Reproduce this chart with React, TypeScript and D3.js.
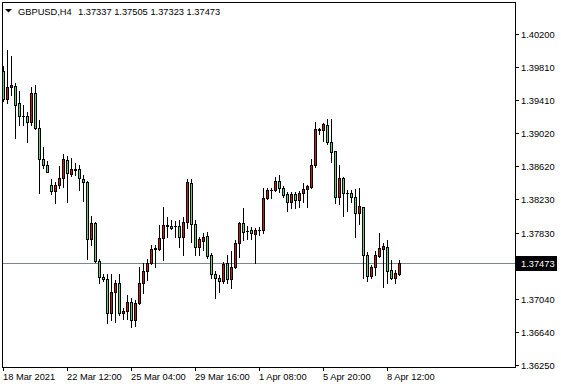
import React from 'react';
import * as d3 from 'd3';

const symbolLabel = 'GBPUSD,H4';
const ohlcLabel = '1.37337 1.37505 1.37323 1.37473';
const lastPrice = 1.37473;

const opens = [
  1.39758, 1.39421, 1.39562, 1.39580, 1.39371, 1.39227, 1.39225, 1.39146, 1.39492, 1.39075,
  1.38705, 1.38633, 1.38395, 1.38327, 1.38395, 1.38478, 1.38693, 1.38529, 1.38585, 1.38585,
  1.38466, 1.38434, 1.37750, 1.37941, 1.37495, 1.37306, 1.37273, 1.36874, 1.37118, 1.37225,
  1.36867, 1.36895, 1.37006, 1.36787, 1.36994, 1.37225, 1.37372, 1.37464, 1.37631, 1.37634,
  1.37762, 1.37909, 1.37909, 1.37909, 1.37909, 1.37781, 1.37960, 1.38418, 1.37933, 1.37655,
  1.37734, 1.37790, 1.37563, 1.37332, 1.37285, 1.37256, 1.37464, 1.37276, 1.37416, 1.37702,
  1.37941, 1.37855, 1.37861, 1.37810, 1.37861, 1.37861, 1.38239, 1.38338, 1.38338, 1.38446,
  1.38366, 1.38287, 1.38199, 1.38287, 1.38225, 1.38297, 1.38356, 1.38378, 1.38637, 1.39063,
  1.39051, 1.39114, 1.38915, 1.38798, 1.38249, 1.38478, 1.38297, 1.38297, 1.38249, 1.38058,
  1.38133, 1.37559, 1.37316, 1.37416, 1.37551, 1.37631, 1.37658, 1.37384, 1.37292, 1.37337,
];
const highs = [
  1.39818, 1.40009, 1.39937, 1.39615, 1.39520, 1.39353, 1.39269, 1.39571, 1.39591, 1.39174,
  1.38852, 1.38679, 1.38466, 1.38438, 1.38625, 1.38768, 1.38744, 1.38717, 1.38664, 1.38637,
  1.38523, 1.38446, 1.38028, 1.37957, 1.37511, 1.37336, 1.37336, 1.37336, 1.37265, 1.37336,
  1.36927, 1.37086, 1.37046, 1.37026, 1.37423, 1.37464, 1.37515, 1.37682, 1.37682, 1.37921,
  1.38132, 1.38020, 1.37980, 1.37972, 1.37980, 1.38020, 1.38466, 1.38466, 1.37980, 1.37781,
  1.37822, 1.37841, 1.37583, 1.37372, 1.37324, 1.37483, 1.37563, 1.37614, 1.37742, 1.37960,
  1.38127, 1.37909, 1.37901, 1.37881, 1.37901, 1.38359, 1.38366, 1.38366, 1.38497, 1.38517,
  1.38390, 1.38311, 1.38318, 1.38311, 1.38327, 1.38418, 1.38404, 1.38711, 1.39150, 1.39084,
  1.39138, 1.39180, 1.39182, 1.38801, 1.38637, 1.38497, 1.38342, 1.38344, 1.38356, 1.38362,
  1.38139, 1.37593, 1.37443, 1.37614, 1.37829, 1.37702, 1.37742, 1.37503, 1.37384, 1.37505,
];
const lows = [
  1.39401, 1.39377, 1.39472, 1.38959, 1.39114, 1.39114, 1.38915, 1.39114, 1.39066, 1.38299,
  1.38601, 1.38553, 1.38291, 1.38180, 1.38359, 1.38378, 1.38199, 1.38506, 1.38517, 1.38338,
  1.38207, 1.37511, 1.37682, 1.37479, 1.37232, 1.37253, 1.36748, 1.36787, 1.36766, 1.36847,
  1.36796, 1.36796, 1.36707, 1.36716, 1.36978, 1.37106, 1.37265, 1.37455, 1.37423, 1.37622,
  1.37503, 1.37781, 1.37869, 1.37781, 1.37662, 1.37563, 1.37885, 1.37722, 1.37563, 1.37563,
  1.37622, 1.37523, 1.37292, 1.37053, 1.37125, 1.37225, 1.37225, 1.37173, 1.37404, 1.37543,
  1.37742, 1.37754, 1.37754, 1.37464, 1.37802, 1.37822, 1.38231, 1.38239, 1.38327, 1.38318,
  1.38259, 1.38088, 1.38120, 1.38127, 1.38130, 1.38195, 1.38136, 1.38368, 1.38617, 1.39007,
  1.38923, 1.38887, 1.38676, 1.38180, 1.38174, 1.38025, 1.38088, 1.38195, 1.37778, 1.37933,
  1.37288, 1.37253, 1.37285, 1.37324, 1.37535, 1.37185, 1.37225, 1.37276, 1.37225, 1.37323,
];
const closes = [
  1.39424, 1.39564, 1.39591, 1.39353, 1.39227, 1.39222, 1.39146, 1.39492, 1.39082, 1.38705,
  1.38637, 1.38557, 1.38327, 1.38395, 1.38478, 1.38705, 1.38538, 1.38585, 1.38583, 1.38478,
  1.38428, 1.37750, 1.37941, 1.37495, 1.37304, 1.37273, 1.36874, 1.37118, 1.37225, 1.36874,
  1.36895, 1.37006, 1.36787, 1.36994, 1.37225, 1.37372, 1.37464, 1.37631, 1.37643, 1.37762,
  1.37921, 1.37921, 1.37881, 1.37905, 1.37781, 1.37960, 1.38438, 1.37933, 1.37655, 1.37750,
  1.37781, 1.37554, 1.37332, 1.37285, 1.37256, 1.37455, 1.37276, 1.37416, 1.37702, 1.37941,
  1.37841, 1.37849, 1.37822, 1.37861, 1.37858, 1.38239, 1.38338, 1.38335, 1.38446, 1.38366,
  1.38279, 1.38199, 1.38287, 1.38219, 1.38303, 1.38356, 1.38386, 1.38637, 1.39063, 1.39059,
  1.39124, 1.38915, 1.38796, 1.38249, 1.38478, 1.38299, 1.38300, 1.38249, 1.38058, 1.38150,
  1.37559, 1.37312, 1.37416, 1.37563, 1.37643, 1.37670, 1.37375, 1.37292, 1.37344, 1.37473,
];

const timeLabels = ['18 Mar 2021', '22 Mar 12:00', '25 Mar 04:00', '29 Mar 16:00', '1 Apr 08:00', '5 Apr 20:00', '8 Apr 12:00'];
const timeLabelBars = [0, 16, 32, 48, 64, 80, 96];
const priceTicks = [1.402, 1.3981, 1.3941, 1.3902, 1.3862, 1.3823, 1.3783, 1.3744, 1.3704, 1.3664, 1.3625];

const W = 561;
const H = 388;
const FONT = "'Liberation Sans', Arial, sans-serif";
const FS = 9.3;
const UP = '#d0161b';
const DOWN = '#36e095';

export default function App() {
  const x = d3.scaleLinear().domain([0, 128]).range([3, 515]);
  const y = d3.scaleLinear().domain([1.3625, 1.402]).range([365, 34]);
  const left = 2;
  const right = 515;
  const top = 2;
  const bottom = 367;
  const bidY = Math.round(y(lastPrice));

  const candles = opens.map((o, i) => {
    const c = closes[i];
    const cx = Math.round(x(i));
    const yh = Math.round(y(highs[i]));
    const yl = Math.round(y(lows[i]));
    const t = Math.round(y(Math.max(o, c)));
    const b = Math.round(y(Math.min(o, c)));
    const fill = c > o ? UP : DOWN;
    return (
      <g key={i}>
        <line x1={cx + 0.5} x2={cx + 0.5} y1={yh} y2={yl + 1} stroke="#000" />
        {b - t >= 2 ? (
          <rect x={cx - 0.5} y={t + 0.5} width={2} height={b - t} fill={fill} stroke="#000" />
        ) : b - t === 1 ? (
          <rect x={cx - 1} y={t} width={3} height={2} fill="#000" />
        ) : (
          <line x1={cx - 1} x2={cx + 2} y1={t + 0.5} y2={t + 0.5} stroke="#000" />
        )}
      </g>
    );
  });

  return (
    <svg width={W} height={H} style={{ position: 'absolute', left: 0, top: 0, background: '#fff' }} shapeRendering="crispEdges">
      <rect x={0} y={0} width={W} height={H} fill="#fff" />
      <line x1={left + 1} x2={right} y1={bidY + 0.5} y2={bidY + 0.5} stroke="#778899" />
      {candles}
      <rect x={left + 0.5} y={top + 0.5} width={right - left} height={bottom - top} fill="none" stroke="#000" />
      <path d="M5,9 L12,9 L8.5,12.5 Z" fill="#000" shapeRendering="geometricPrecision" />
      <text x={18} y={14.5} fontFamily={FONT} fontSize={FS} fill="#000">{symbolLabel}</text>
      <text x={78} y={14.5} fontFamily={FONT} fontSize={FS} fill="#000">{ohlcLabel}</text>
      {priceTicks.map((p) => {
        const ty = Math.round(y(p));
        const hidden = Math.abs(ty - bidY) < 10;
        return (
          <g key={p}>
            <line x1={right} x2={right + 4} y1={ty + 0.5} y2={ty + 0.5} stroke="#000" />
            {!hidden && (
              <text x={521} y={ty + 3.5} fontFamily={FONT} fontSize={FS} fill="#000">{p.toFixed(5)}</text>
            )}
          </g>
        );
      })}
      <rect x={516} y={bidY - 7} width={41} height={15} fill="#000" />
      <text x={521} y={bidY + 3.5} fontFamily={FONT} fontSize={FS} fill="#fff">{lastPrice.toFixed(5)}</text>
      {timeLabelBars.map((bi, k) => {
        const tx = Math.round(x(bi));
        return (
          <g key={bi}>
            <line x1={tx + 0.5} x2={tx + 0.5} y1={bottom} y2={bottom + 4} stroke="#000" />
            <text x={tx} y={380} fontFamily={FONT} fontSize={FS} fill="#000">{timeLabels[k]}</text>
          </g>
        );
      })}
    </svg>
  );
}
